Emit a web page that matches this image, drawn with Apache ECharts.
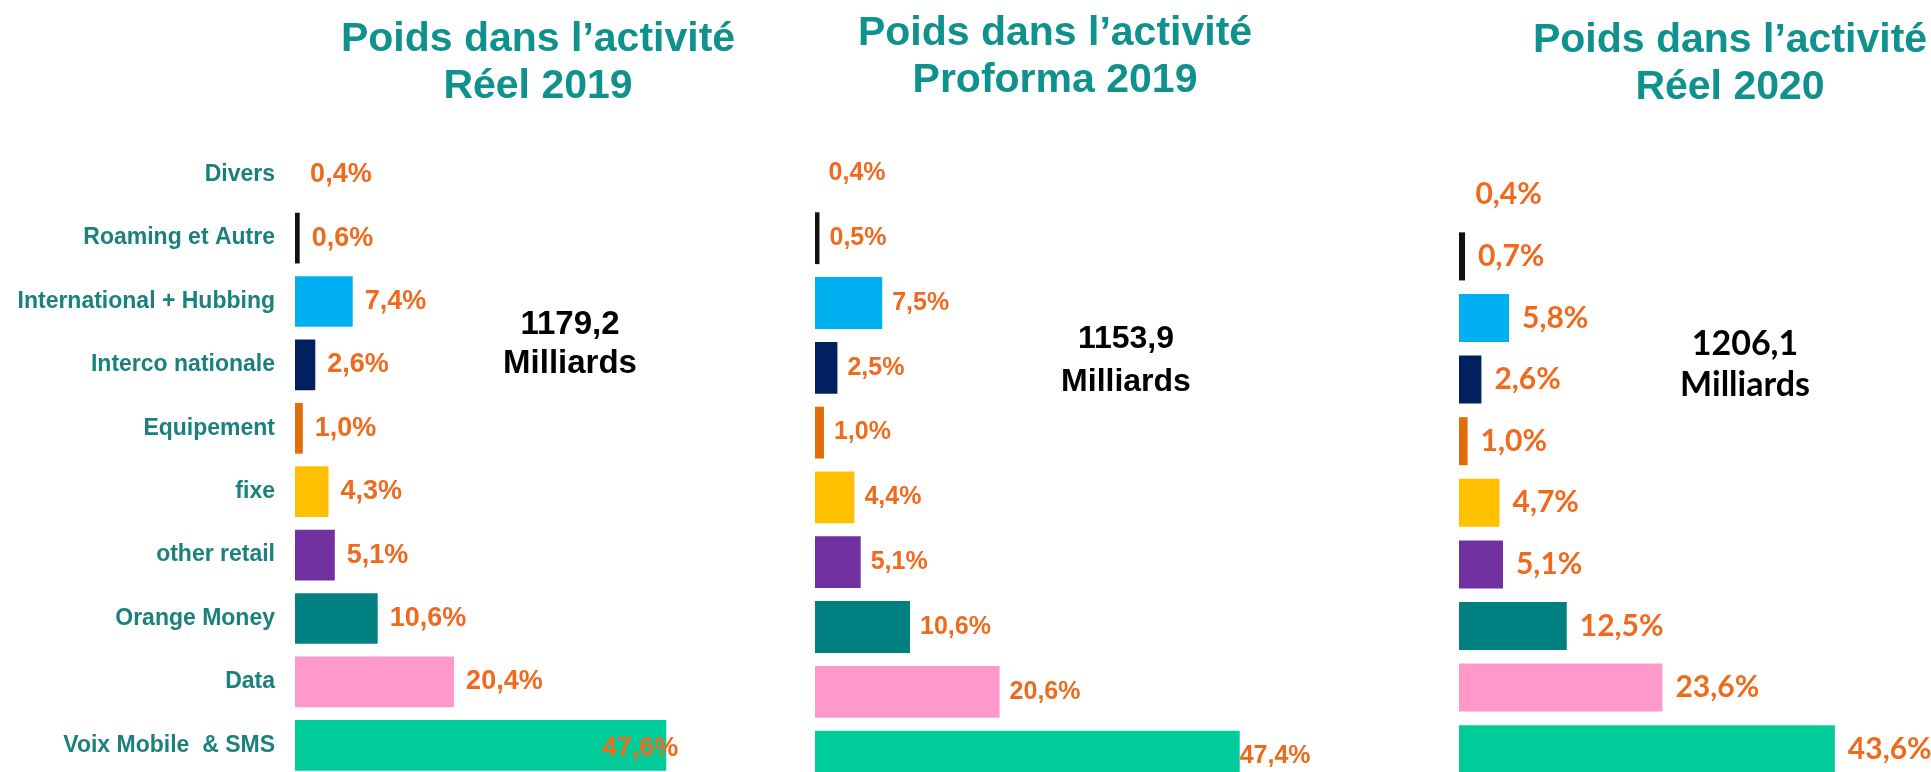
<!DOCTYPE html>
<html>
<head>
<meta charset="utf-8">
<title>Poids dans l'activité</title>
<script src="https://cdn.jsdelivr.net/npm/echarts@6/dist/echarts.min.js"></script>
<style>
  html, body { margin: 0; padding: 0; background: #fff; }
  #myCharts { width: 1931px; height: 772px; }
</style>
</head>
<body>
<div id="myCharts"></div>
<script>
// categories, top to bottom
var categories = ['Divers', 'Roaming et Autre', 'International + Hubbing', 'Interco nationale', 'Equipement', 'fixe', 'other retail', 'Orange Money', 'Data', 'Voix Mobile  & SMS']
// poids (%) par période
var reel2019 = [0.4, 0.6, 7.4, 2.6, 1.0, 4.3, 5.1, 10.6, 20.4, 47.6]
var proforma2019 = [0.4, 0.5, 7.5, 2.5, 1.0, 4.4, 5.1, 10.6, 20.6, 47.4]
var reel2020 = [0.4, 0.7, 5.8, 2.6, 1.0, 4.7, 5.1, 12.5, 23.6, 43.6]
var panelTitles = ['Poids dans l’activité\nRéel 2019', 'Poids dans l’activité\nProforma 2019', 'Poids dans l’activité\nRéel 2020']
var totals = ['1179,2\nMilliards', '1153,9\nMilliards', '1206,1\nMilliards']

var barColors = ['rgba(0,0,0,0)', '#111111', '#00b0f0', '#002060', '#e36c0a', '#ffc000', '#7030a0', '#008080', '#ff99cc', '#00cc99']
var orange = '#f06a1e'
var teal = '#0f918d'
var arial = '"Liberation Sans", Arial, sans-serif'
var calibri = 'Lato, "Open Sans", sans-serif'

function fmt(v) {
  return v.toFixed(1).replace('.', ',') + '%'
}

function buildData(values, lastLabel) {
  return values.map(function (v, i) {
    var item = { value: v, itemStyle: { color: barColors[i] } }
    if (i === values.length - 1 && lastLabel) {
      item.label = lastLabel
    }
    return item
  })
}

function valueLabel(family, size, distance) {
  return {
    show: true,
    position: 'right',
    distance: distance,
    color: orange,
    fontFamily: family,
    fontWeight: 'bold',
    fontSize: size,
    formatter: function (p) { return fmt(p.value) },
  }
}

var mycharts = echarts.init(document.getElementById('myCharts'), null, { renderer: 'canvas' })

mycharts.setOption({
  animation: false,
  backgroundColor: '#ffffff',
  grid: [
    { left: 295, top: 143, width: 390, height: 634, outerBoundsMode: 'none', containLabel: false },
    { left: 815, top: 141, width: 448, height: 648, outerBoundsMode: 'none', containLabel: false },
    { left: 1459, top: 164, width: 431, height: 616, outerBoundsMode: 'none', containLabel: false },
  ],
  xAxis: [0, 1, 2].map(function (i) {
    return { type: 'value', gridIndex: i, min: 0, max: 50, show: false }
  }),
  yAxis: [0, 1, 2].map(function (i) {
    return {
      type: 'category',
      gridIndex: i,
      inverse: true,
      data: categories,
      axisLine: { show: false },
      axisTick: { show: false },
      splitLine: { show: false },
      axisLabel: {
        show: i === 0,
        margin: 20,
        color: '#1b817d',
        fontFamily: arial,
        fontWeight: 'bold',
        fontSize: 23,
      },
    }
  }),
  series: [
    {
      type: 'bar',
      xAxisIndex: 0,
      yAxisIndex: 0,
      barWidth: '80%',
      data: buildData(reel2019, { position: 'insideRight', distance: 0, offset: [12, 3] }),
      label: valueLabel(arial, 27, 12),
    },
    {
      type: 'bar',
      xAxisIndex: 1,
      yAxisIndex: 1,
      barWidth: '80%',
      data: buildData(proforma2019, { distance: 0 }),
      label: valueLabel(arial, 25, 10),
    },
    {
      type: 'bar',
      xAxisIndex: 2,
      yAxisIndex: 2,
      barWidth: '78%',
      data: buildData(reel2020),
      label: valueLabel(calibri, 30, 13),
    },
  ],
  graphic: [
    // titres
    { type: 'text', x: 538, y: 16, style: { text: panelTitles[0], textAlign: 'center', textVerticalAlign: 'top', fill: teal, font: 'bold 41px ' + arial, lineHeight: 47 } },
    { type: 'text', x: 1055, y: 10, style: { text: panelTitles[1], textAlign: 'center', textVerticalAlign: 'top', fill: teal, font: 'bold 41px ' + arial, lineHeight: 47 } },
    { type: 'text', x: 1730, y: 17, style: { text: panelTitles[2], textAlign: 'center', textVerticalAlign: 'top', fill: teal, font: 'bold 41px ' + arial, lineHeight: 47 } },
    // totaux
    { type: 'text', x: 570, y: 305, style: { text: totals[0], textAlign: 'center', textVerticalAlign: 'top', fill: '#000', font: 'bold 33px ' + arial, lineHeight: 39 } },
    { type: 'text', x: 1126, y: 318, style: { text: totals[1], textAlign: 'center', textVerticalAlign: 'top', fill: '#000', font: 'bold 32px ' + arial, lineHeight: 43 } },
    { type: 'text', x: 1745, y: 324, style: { text: totals[2], textAlign: 'center', textVerticalAlign: 'top', fill: '#000', font: 'bold 34px ' + calibri, lineHeight: 41 } },
  ],
})
</script>
</body>
</html>
